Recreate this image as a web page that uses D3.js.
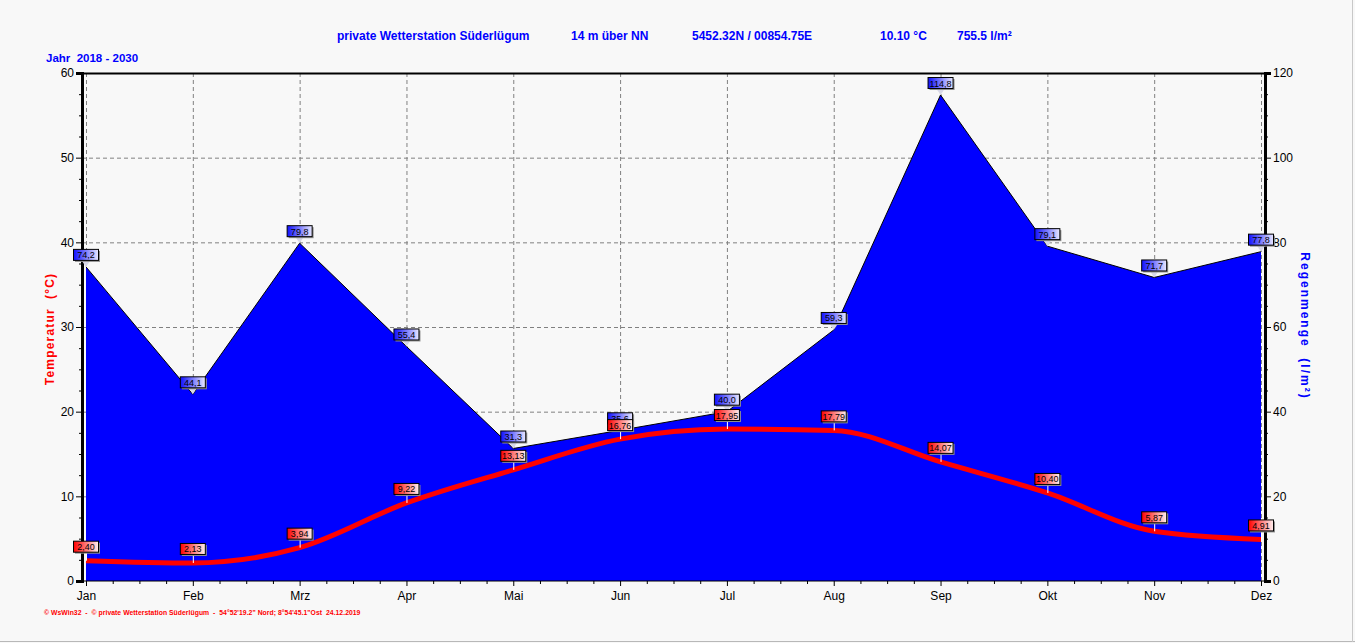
<!DOCTYPE html>
<html>
<head>
<meta charset="utf-8">
<script src="https://cdn.jsdelivr.net/npm/d3@7"></script>
<style>
  body { margin: 0; background: #f8f8f8; }
  svg { display: block; font-family: "Liberation Sans", Arial, sans-serif; }
</style>
</head>
<body>
<div class="chart"></div>
<script>
var months = ['Jan', 'Feb', 'Mrz', 'Apr', 'Mai', 'Jun', 'Jul', 'Aug', 'Sep', 'Okt', 'Nov', 'Dez']
var temp = [2.40, 2.13, 3.94, 9.22, 13.13, 16.76, 17.95, 17.79, 14.07, 10.40, 5.87, 4.91]
var rain = [74.2, 44.1, 79.8, 55.4, 31.3, 35.6, 40.0, 59.3, 114.8, 79.1, 71.7, 77.8]
var tempTicks = [0, 10, 20, 30, 40, 50, 60]
var rainTicks = [0, 20, 40, 60, 80, 100, 120]

var width = 1355
var height = 643
var plotLeft = 82, plotRight = 1265, plotTop = 73, plotBottom = 581

var svg = d3.select('.chart')
  .append('svg')
  .attr('width', width)
  .attr('height', height)

var defs = svg.append('defs')
var gr = defs.append('linearGradient').attr('id', 'gred')
gr.append('stop').attr('offset', '0%').attr('stop-color', '#ff0000')
gr.append('stop').attr('offset', '100%').attr('stop-color', '#fff0f0')
var gb = defs.append('linearGradient').attr('id', 'gblue')
gb.append('stop').attr('offset', '0%').attr('stop-color', '#1010ff')
gb.append('stop').attr('offset', '100%').attr('stop-color', '#e8e8ff')

svg.append('rect')
  .attr('width', width).attr('height', height)
  .attr('fill', '#f8f8f8')
svg.append('line')
  .attr('x1', 0).attr('x2', width).attr('y1', 641.5).attr('y2', 641.5)
  .attr('stroke', '#b8b8b8')
svg.append('line')
  .attr('x1', 1352.5).attr('x2', 1352.5).attr('y1', 0).attr('y2', 642)
  .attr('stroke', '#c8c8c8')

var x = d3.scalePoint().domain(months).range([86, 1261])
var yT = d3.scaleLinear().domain([0, 60]).range([plotBottom, plotTop])
var yR = d3.scaleLinear().domain([0, 120]).range([plotBottom, plotTop])

// grid
svg.append('g').selectAll('line')
  .data(tempTicks.slice(1, -1))
  .enter().append('line')
  .attr('x1', plotLeft).attr('x2', plotRight)
  .attr('y1', function(d) { return yT(d) + 0.5 })
  .attr('y2', function(d) { return yT(d) + 0.5 })
  .attr('stroke', '#808080')
  .attr('stroke-dasharray', '4,3')
svg.append('g').selectAll('line')
  .data(months)
  .enter().append('line')
  .attr('x1', function(d) { return x(d) + 0.5 })
  .attr('x2', function(d) { return x(d) + 0.5 })
  .attr('y1', plotTop).attr('y2', plotBottom)
  .attr('stroke', '#808080')
  .attr('stroke-dasharray', '4,3')

// rain area
var area = d3.area()
  .x(function(d, i) { return x(months[i]) })
  .y0(plotBottom)
  .y1(function(d) { return yR(d) })
svg.append('path')
  .datum(rain)
  .attr('d', area)
  .attr('fill', '#0000ff')
svg.append('path')
  .datum(rain)
  .attr('d', d3.line()
    .x(function(d, i) { return x(months[i]) })
    .y(function(d) { return yR(d) }))
  .attr('fill', 'none')
  .attr('stroke', '#000')
  .attr('stroke-width', 1)

// temperature line
svg.append('path')
  .datum(temp)
  .attr('d', d3.line()
    .x(function(d, i) { return x(months[i]) })
    .y(function(d) { return yT(d) })
    .curve(d3.curveMonotoneX))
  .attr('fill', 'none')
  .attr('stroke', '#ff0000')
  .attr('stroke-width', 5)

// frame and axes
svg.append('line')
  .attr('x1', plotLeft).attr('x2', plotRight).attr('y1', plotTop + 0.5).attr('y2', plotTop + 0.5)
  .attr('stroke', '#000').attr('stroke-width', 2)

var axL = d3.axisLeft(yT).tickValues(tempTicks).tickSize(6).tickPadding(2)
var gL = svg.append('g').attr('transform', 'translate(' + plotLeft + ',0)').call(axL)
gL.select('.domain').attr('stroke-width', 3)
var axLm = d3.axisLeft(yT).tickValues(d3.range(0, 60, 2.5).filter(function(v) { return v % 10 != 0 })).tickSize(3).tickFormat('')
svg.append('g').attr('transform', 'translate(' + plotLeft + ',0)').call(axLm).select('.domain').remove()

var axR = d3.axisRight(yR).tickValues(rainTicks).tickSize(6).tickPadding(2)
var gR = svg.append('g').attr('transform', 'translate(' + plotRight + ',0)').call(axR)
gR.select('.domain').attr('stroke-width', 3)
var axRm = d3.axisRight(yR).tickValues(d3.range(0, 120, 5).filter(function(v) { return v % 20 != 0 })).tickSize(3).tickFormat('')
svg.append('g').attr('transform', 'translate(' + plotRight + ',0)').call(axRm).select('.domain').remove()

var axB = d3.axisBottom(x).tickSize(5).tickPadding(5)
var gB = svg.append('g').attr('transform', 'translate(0,' + plotBottom + ')').call(axB)
gB.select('.domain').attr('d', 'M' + plotLeft + ',0H' + plotRight)
var step = x.step()
var minor = []
months.slice(0, -1).forEach(function(m) {
  for (var k = 1; k < 4; k++) minor.push(x(m) + step * k / 4)
})
svg.append('g').selectAll('line')
  .data(minor)
  .enter().append('line')
  .attr('x1', function(d) { return d + 0.5 }).attr('x2', function(d) { return d + 0.5 })
  .attr('y1', plotBottom).attr('y2', plotBottom + 3)
  .attr('stroke', '#000')

svg.selectAll('.tick text')
  .attr('font-size', 12)
  .attr('fill', '#000')
svg.selectAll('.tick line').attr('stroke', '#000')

// rain labels
var rl = svg.append('g').selectAll('g')
  .data(rain)
  .enter().append('g')
  .attr('transform', function(d, i) { return 'translate(' + x(months[i]) + ',' + yR(d) + ')' })
rl.append('path')
  .attr('d', 'M-4,-6L4,-6L0,0Z')
  .attr('fill', '#d8d8e8')
rl.append('rect')
  .attr('x', -11).attr('y', -16).attr('width', 25).attr('height', 11)
  .attr('fill', '#909090')
rl.append('rect')
  .attr('x', -12.5).attr('y', -17.5).attr('width', 25).attr('height', 11)
  .attr('fill', 'url(#gblue)')
  .attr('stroke', '#000')
rl.append('text')
  .attr('y', -8.5)
  .attr('text-anchor', 'middle')
  .attr('font-size', 9)
  .attr('fill', '#000')
  .text(function(d) { return d.toFixed(1).replace('.', ',') })

// temperature labels
var tl = svg.append('g').selectAll('g')
  .data(temp)
  .enter().append('g')
  .attr('transform', function(d, i) { return 'translate(' + x(months[i]) + ',' + yT(d) + ')' })
tl.append('line')
  .attr('x1', 0.5).attr('x2', 0.5).attr('y1', -8).attr('y2', 0)
  .attr('stroke', '#fff')
tl.append('rect')
  .attr('x', -11).attr('y', -18).attr('width', 25).attr('height', 11)
  .attr('fill', '#909090')
tl.append('rect')
  .attr('x', -12.5).attr('y', -19.5).attr('width', 25).attr('height', 11)
  .attr('fill', 'url(#gred)')
  .attr('stroke', '#000')
tl.append('text')
  .attr('y', -10.5)
  .attr('text-anchor', 'middle')
  .attr('font-size', 9)
  .attr('fill', '#000')
  .text(function(d) { return d.toFixed(2).replace('.', ',') })

// titles
var head = [
  ['private Wetterstation Süderlügum', 337],
  ['14 m über NN', 571],
  ['5452.32N / 00854.75E', 692],
  ['10.10 °C', 880],
  ['755.5 l/m²', 957]
]
svg.append('g').selectAll('text')
  .data(head)
  .enter().append('text')
  .attr('x', function(d) { return d[1] })
  .attr('y', 40)
  .attr('font-size', 12)
  .attr('font-weight', 'bold')
  .attr('fill', '#0000ff')
  .text(function(d) { return d[0] })

svg.append('text')
  .attr('x', 46).attr('y', 62)
  .attr('font-size', 11.5)
  .attr('font-weight', 'bold')
  .attr('fill', '#0000ff')
  .attr('xml:space', 'preserve')
  .text('Jahr  2018 - 2030')

svg.append('text')
  .attr('transform', 'translate(54,329) rotate(-90)')
  .attr('text-anchor', 'middle')
  .attr('font-size', 12)
  .attr('font-weight', 'bold')
  .attr('letter-spacing', 1.2)
  .attr('fill', '#ff0000')
  .attr('xml:space', 'preserve')
  .text('Temperatur  (°C)')

svg.append('text')
  .attr('transform', 'translate(1301,326) rotate(90)')
  .attr('text-anchor', 'middle')
  .attr('font-size', 12)
  .attr('font-weight', 'bold')
  .attr('letter-spacing', 2)
  .attr('fill', '#0000ff')
  .attr('xml:space', 'preserve')
  .text('Regenmenge  (l/m²)')

svg.append('text')
  .attr('x', 44).attr('y', 615)
  .attr('font-size', 6.8)
  .attr('font-weight', 'bold')
  .attr('letter-spacing', 0.05)
  .attr('fill', '#ff0000')
  .attr('xml:space', 'preserve')
  .text('© WsWin32  -  © private Wetterstation Süderlügum  -  54°52\'19.2" Nord; 8°54\'45.1"Ost  24.12.2019')
</script>
</body>
</html>
